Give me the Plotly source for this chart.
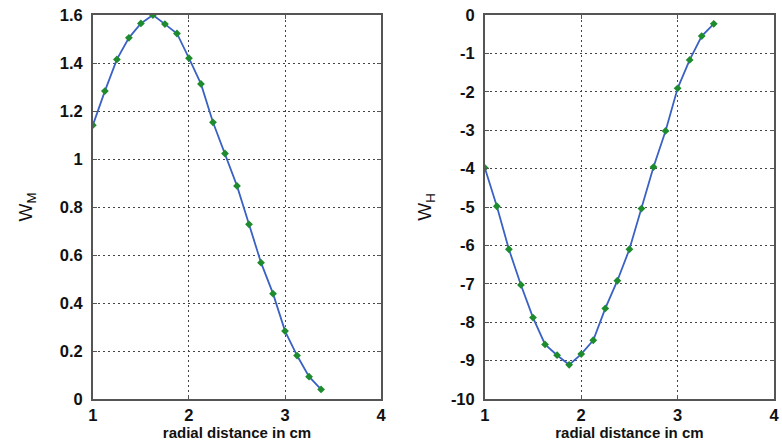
import plotly.graph_objects as go

r_cm = [1.0, 1.125, 1.25, 1.375, 1.5, 1.625, 1.75, 1.875, 2.0, 2.125,
        2.25, 2.375, 2.5, 2.625, 2.75, 2.875, 3.0, 3.125, 3.25, 3.375]
w_m = [1.141, 1.283, 1.415, 1.505, 1.565, 1.600, 1.562, 1.523, 1.420, 1.313,
       1.153, 1.023, 0.888, 0.728, 0.568, 0.439, 0.283, 0.181, 0.093, 0.040]
w_h = [-3.98, -4.98, -6.10, -7.03, -7.88, -8.58, -8.86, -9.11, -8.83, -8.47,
       -7.64, -6.92, -6.10, -5.04, -3.96, -3.02, -1.91, -1.17, -0.55, -0.23]

x_label = "radial distance in cm"
y_labels = ["W<sub>M</sub>", "W<sub>H</sub>"]
x_ticks = [1, 2, 3, 4]
y1_ticks = [0, 0.2, 0.4, 0.6, 0.8, 1.0, 1.2, 1.4, 1.6]
y1_text = ["0", "0.2", "0.4", "0.6", "0.8", "1", "1.2", "1.4", "1.6"]
y2_ticks = [0, -1, -2, -3, -4, -5, -6, -7, -8, -9, -10]
y2_text = ["0", "-1", "-2", "-3", "-4", "-5", "-6", "-7", "-8", "-9", "-10"]

W, H = 782, 441
fig = go.Figure()

line_col = "#3a62c4"
mark_col = "#1e8c2e"

for i, yv in enumerate([w_m, w_h]):
    xa = "x" if i == 0 else "x2"
    ya = "y" if i == 0 else "y2"
    fig.add_trace(go.Scatter(
        x=r_cm, y=yv, mode="lines+markers", xaxis=xa, yaxis=ya,
        line=dict(color=line_col, width=1.8),
        marker=dict(symbol="diamond", size=6, color=mark_col),
        showlegend=False))

fam = "Liberation Sans, Arial, sans-serif"
font = dict(family=fam, size=16.5, color="#111111", weight="bold")
axis_common = dict(
    showgrid=True, gridcolor="#444444", griddash="2px,3px", gridwidth=1,
    showline=True, linecolor="#555555", linewidth=1.5, mirror="ticks",
    ticks="inside", ticklen=4, tickcolor="#555555",
    zeroline=False, tickfont=font,
)
xt_font = dict(family=fam, size=15, color="#111111", weight="bold")
yt_font = dict(family=fam, size=19, color="#111111")

fig.update_layout(
    width=W, height=H,
    margin=dict(l=0, r=0, t=15, b=42),
    paper_bgcolor="white", plot_bgcolor="white",
    xaxis=dict(domain=[89 / W, 381 / W], range=[1, 4], tickvals=x_ticks, anchor="y",
               title=dict(text=x_label, font=xt_font, standoff=1),
               **axis_common),
    yaxis=dict(domain=[0, 1], range=[0, 1.6], tickvals=y1_ticks, ticktext=y1_text, anchor="x",
               ticklabelstandoff=5,
               title=dict(text=y_labels[0], font=yt_font, standoff=22),
               **axis_common),
    xaxis2=dict(domain=[486 / W, 779 / W], range=[1, 4], tickvals=x_ticks, anchor="y2",
                title=dict(text=x_label, font=xt_font, standoff=1),
                **axis_common),
    yaxis2=dict(domain=[0, 1], range=[-10, 0], tickvals=y2_ticks, ticktext=y2_text, anchor="x2",
                ticklabelstandoff=5,
                title=dict(text=y_labels[1], font=yt_font, standoff=14),
                **axis_common),
)

fig.write_html("out.html")
